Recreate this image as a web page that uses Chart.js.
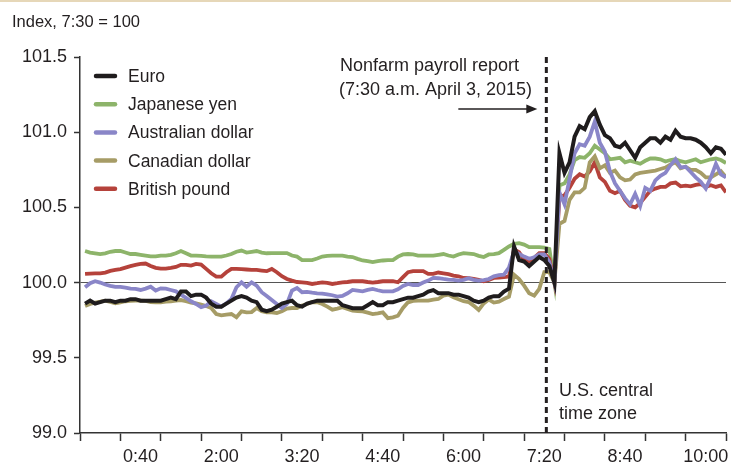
<!DOCTYPE html>
<html>
<head>
<meta charset="utf-8">
<title>Exchange rates around the nonfarm payroll report</title>
<script src="https://cdn.jsdelivr.net/npm/chart.js@4.4.1/dist/chart.umd.min.js"></script>
<style>
  html, body { margin: 0; padding: 0; background: #fff; }
  #wrap { width: 731px; height: 468px; position: relative; }
</style>
</head>
<body>
<div id="wrap"><canvas id="fxChart" width="731" height="468"></canvas></div>
<script>
// Minutes after midnight (U.S. central time), 5-minute steps
const times = [
  -15, -10, -5, 0, 5, 10, 15, 20, 25, 30,
  35, 40, 45, 50, 55, 60, 65, 70, 75, 80,
  85, 90, 95, 100, 105, 110, 115, 120, 125, 130,
  135, 140, 145, 150, 155, 160, 165, 170, 175, 180,
  185, 190, 195, 200, 205, 210, 215, 220, 225, 230,
  235, 240, 245, 250, 255, 260, 265, 270, 275, 280,
  285, 290, 295, 300, 305, 310, 315, 320, 325, 330,
  335, 340, 345, 350, 355, 360, 365, 370, 375, 380,
  385, 390, 395, 400, 405, 410, 415, 420, 425, 430,
  435, 440, 445, 450, 455, 460, 465, 470, 475, 480,
  485, 490, 495, 500, 505, 510, 515, 520, 525, 530,
  535, 540, 545, 550, 555, 560, 565, 570, 575, 580,
  585, 590, 595, 600, 605, 610, 615, 620
];

// Index, 7:30 = 100
const euro = [
  99.86, 99.88, 99.86, 99.87, 99.88, 99.88, 99.87, 99.88, 99.88, 99.89,
  99.89, 99.88, 99.88, 99.88, 99.88, 99.88, 99.89, 99.90, 99.89, 99.94,
  99.94, 99.91, 99.92, 99.92, 99.90, 99.86, 99.84, 99.84, 99.86, 99.88,
  99.90, 99.91, 99.90, 99.88, 99.87, 99.82, 99.81, 99.82, 99.84, 99.86,
  99.87, 99.88, 99.85, 99.84, 99.86, 99.87, 99.88, 99.88, 99.88, 99.88,
  99.88, 99.85, 99.84, 99.83, 99.83, 99.83, 99.85, 99.87, 99.85, 99.85,
  99.87, 99.87, 99.88, 99.89, 99.90, 99.90, 99.91, 99.92, 99.94, 99.95,
  99.93, 99.93, 99.93, 99.92, 99.92, 99.91, 99.90, 99.88, 99.87, 99.88,
  99.90, 99.91, 99.91, 99.94, 99.96, 100.24, 100.15, 100.14, 100.11, 100.14,
  100.17, 100.15, 100.11, 100.00, 100.86, 100.73, 100.80, 100.97, 101.04, 101.02,
  101.10, 101.14, 101.05, 100.98, 100.96, 100.91, 100.90, 100.93, 100.88, 100.83,
  100.90, 100.93, 100.96, 100.96, 100.93, 100.97, 100.95, 101.01, 100.97, 100.96,
  100.96, 100.95, 100.93, 100.90, 100.86, 100.90, 100.89, 100.85
];
const yen = [
  100.21, 100.20, 100.195, 100.19, 100.195, 100.205, 100.21, 100.21, 100.20, 100.19,
  100.19, 100.185, 100.18, 100.175, 100.175, 100.18, 100.18, 100.185, 100.195, 100.21,
  100.195, 100.18, 100.18, 100.178, 100.175, 100.173, 100.173, 100.173, 100.18, 100.19,
  100.205, 100.213, 100.20, 100.205, 100.21, 100.20, 100.195, 100.196, 100.196, 100.196,
  100.196, 100.18, 100.173, 100.15, 100.15, 100.15, 100.16, 100.173, 100.178, 100.18,
  100.18, 100.18, 100.173, 100.17, 100.158, 100.147, 100.142, 100.136, 100.142, 100.147,
  100.15, 100.15, 100.173, 100.187, 100.19, 100.187, 100.18, 100.18, 100.18, 100.18,
  100.185, 100.19, 100.18, 100.173, 100.187, 100.196, 100.193, 100.19, 100.178, 100.17,
  100.187, 100.19, 100.196, 100.218, 100.24, 100.258, 100.262, 100.253, 100.236, 100.236,
  100.236, 100.233, 100.224, 100.00, 100.645, 100.66, 100.72, 100.815, 100.835, 100.83,
  100.86, 100.91, 100.885, 100.86, 100.82, 100.825, 100.83, 100.80, 100.81, 100.80,
  100.79, 100.81, 100.825, 100.825, 100.82, 100.805, 100.815, 100.82, 100.807, 100.80,
  100.81, 100.82, 100.80, 100.81, 100.82, 100.825, 100.815, 100.795
];
const audollar = [
  99.969, 99.996, 100.009, 100.0, 99.987, 99.978, 99.971, 99.971, 99.967, 99.96,
  99.958, 99.951, 99.96, 99.973, 99.947, 99.962, 99.96, 99.951, 99.942, 99.92,
  99.898, 99.876, 99.858, 99.836, 99.847, 99.876, 99.858, 99.84, 99.862, 99.891,
  99.969, 100.002, 99.973, 100.002, 99.98, 99.936, 99.911, 99.884, 99.858, 99.831,
  99.858, 99.947, 99.964, 99.936, 99.938, 99.933, 99.929, 99.927, 99.922, 99.916,
  99.907, 99.911, 99.929, 99.951, 99.947, 99.942, 99.951, 99.958, 99.949, 99.942,
  99.942, 99.942, 99.956, 99.978, 99.991, 99.984, 99.984, 100.0, 100.013, 100.031,
  100.029, 100.024, 100.02, 100.018, 100.013, 100.018, 100.029, 100.018, 100.013, 100.016,
  100.024, 100.042, 100.049, 100.053, 100.10, 100.209, 100.191, 100.173, 100.158, 100.169,
  100.187, 100.187, 100.136, 100.00, 100.60, 100.52, 100.69, 100.86, 100.92, 100.91,
  100.97, 101.07, 100.93, 100.87, 100.74, 100.66, 100.61, 100.56, 100.52, 100.59,
  100.51, 100.63, 100.61, 100.68, 100.71, 100.73, 100.78, 100.82, 100.765, 100.77,
  100.735, 100.70, 100.67, 100.625, 100.70, 100.79, 100.72, 100.70
];
const cadollar = [
  99.844, 99.858, 99.867, 99.873, 99.88, 99.871, 99.862, 99.869, 99.876, 99.878,
  99.88, 99.88, 99.878, 99.871, 99.869, 99.869, 99.873, 99.876, 99.88, 99.884,
  99.876, 99.867, 99.862, 99.853, 99.844, 99.831, 99.791, 99.782, 99.787, 99.791,
  99.769, 99.809, 99.802, 99.804, 99.831, 99.809, 99.802, 99.802, 99.798, 99.809,
  99.827, 99.831, 99.831, 99.847, 99.858, 99.871, 99.869, 99.858, 99.84, 99.82,
  99.827, 99.836, 99.824, 99.813, 99.811, 99.809, 99.80, 99.791, 99.796, 99.802,
  99.764, 99.769, 99.78, 99.831, 99.869, 99.878, 99.88, 99.88, 99.88, 99.887,
  99.891, 99.913, 99.92, 99.902, 99.889, 99.876, 99.871, 99.847, 99.818, 99.862,
  99.887, 99.867, 99.873, 99.891, 99.907, 100.053, 100.024, 99.98, 99.929, 99.913,
  99.958, 100.069, 100.069, 100.00, 100.39, 100.41, 100.55, 100.60, 100.60, 100.63,
  100.80, 100.84, 100.76, 100.78, 100.73, 100.745, 100.70, 100.68, 100.685, 100.72,
  100.73, 100.735, 100.74, 100.745, 100.755, 100.765, 100.785, 100.80, 100.76, 100.77,
  100.75, 100.75, 100.73, 100.70, 100.70, 100.72, 100.74, 100.70
];
const pound = [
  100.058, 100.06, 100.062, 100.062, 100.067, 100.078, 100.084, 100.09, 100.10, 100.109,
  100.118, 100.124, 100.127, 100.111, 100.098, 100.093, 100.093, 100.098, 100.104, 100.118,
  100.118, 100.113, 100.124, 100.12, 100.091, 100.062, 100.04, 100.04, 100.069, 100.091,
  100.091, 100.089, 100.087, 100.084, 100.084, 100.08, 100.076, 100.091, 100.069, 100.042,
  100.024, 100.013, 100.004, 100.002, 99.998, 99.991, 99.996, 100.002, 99.998, 99.991,
  99.996, 100.002, 100.004, 100.009, 100.009, 100.009, 100.004, 100.0, 100.004, 100.009,
  100.009, 100.009, 100.002, 100.036, 100.069, 100.076, 100.076, 100.076, 100.058, 100.058,
  100.067, 100.062, 100.056, 100.047, 100.042, 100.031, 100.029, 100.024, 100.018, 100.009,
  100.018, 100.031, 100.033, 100.036, 100.04, 100.22, 100.202, 100.151, 100.142, 100.164,
  100.196, 100.196, 100.158, 100.00, 100.57, 100.58, 100.63, 100.69, 100.72, 100.705,
  100.74, 100.80, 100.70, 100.67, 100.61, 100.595, 100.61, 100.55, 100.51, 100.50,
  100.53, 100.57, 100.61, 100.625, 100.636, 100.636, 100.66, 100.665, 100.64, 100.645,
  100.64, 100.65, 100.655, 100.636, 100.647, 100.636, 100.646, 100.60
];

// Axis labels
const xLabelMinutes = [40, 120, 200, 280, 360, 440, 520, 600];
const xLabels = ['0:40', '2:00', '3:20', '4:40', '6:00', '7:20', '8:40', '10:00'];
const yTicks = [99.0, 99.5, 100.0, 100.5, 101.0, 101.5];
const reportMinute = 442; // where the dashed marker sits on the time axis

const FONT = '"Liberation Sans", Arial, sans-serif';
const INK = '#231f20';

const series = [
  { label: 'Euro', data: euro, color: '#1f1c1d', width: 4, order: 0 },
  { label: 'Japanese yen', data: yen, color: '#8db46a', width: 3.8, order: 4 },
  { label: 'Australian dollar', data: audollar, color: '#8a86c8', width: 3.8, order: 1 },
  { label: 'Canadian dollar', data: cadollar, color: '#a69c66', width: 3.8, order: 2 },
  { label: 'British pound', data: pound, color: '#b5423b', width: 3.8, order: 3 }
];

// Legend, notes and the report marker
const decor = {
  id: 'decor',
  beforeDraw(chart) {
    const c = chart.ctx;
    c.save();
    c.fillStyle = '#fff';
    c.fillRect(0, 0, chart.width, chart.height);
    c.fillStyle = '#e6d7b8';
    c.fillRect(0, 0, chart.width, 2);
    c.restore();
  },
  afterDatasetsDraw(chart) {
    const c = chart.ctx;
    const area = chart.chartArea;
    const x = chart.scales.x.getPixelForValue(reportMinute);
    c.save();
    c.strokeStyle = INK;
    c.lineWidth = 3;
    c.setLineDash([6, 4]);
    c.beginPath();
    c.moveTo(x, area.top);
    c.lineTo(x, area.bottom);
    c.stroke();
    c.restore();
  },
  afterDraw(chart) {
    const c = chart.ctx;
    const dashX = chart.scales.x.getPixelForValue(reportMinute);
    c.save();
    c.fillStyle = INK;
    c.textBaseline = 'alphabetic';

    c.font = '16.5px ' + FONT;
    c.fillText('Index, 7:30 = 100', 12, 27);

    c.font = '18px ' + FONT;
    c.fillText('Nonfarm payroll report', 340, 71);
    c.fillText('(7:30 a.m. April 3, 2015)', 339, 95);
    c.fillText('U.S. central', 559, 396);
    c.fillText('time zone', 559, 419);

    // arrow pointing at the marker
    const ay = 109;
    c.strokeStyle = INK;
    c.lineWidth = 1.5;
    c.beginPath();
    c.moveTo(dashX - 88, ay);
    c.lineTo(dashX - 18, ay);
    c.stroke();
    c.beginPath();
    c.moveTo(dashX - 9, ay);
    c.lineTo(dashX - 20, ay - 4.5);
    c.lineTo(dashX - 20, ay + 4.5);
    c.closePath();
    c.fill();

    // legend
    c.font = '17.5px ' + FONT;
    c.lineCap = 'round';
    c.lineWidth = 4.5;
    series.forEach((s, i) => {
      const y = 76 + i * 28.2;
      c.strokeStyle = s.color;
      c.beginPath();
      c.moveTo(96, y);
      c.lineTo(115, y);
      c.stroke();
      c.fillStyle = INK;
      c.fillText(s.label, 128, y + 6);
    });
    c.restore();
  }
};

Chart.defaults.font.family = FONT;
Chart.defaults.color = INK;

new Chart(document.getElementById('fxChart').getContext('2d'), {
  type: 'line',
  data: {
    datasets: series.map(s => ({
      label: s.label,
      data: s.data.map((v, i) => ({ x: times[i], y: v })),
      borderColor: s.color,
      backgroundColor: s.color,
      borderWidth: s.width,
      pointRadius: 0,
      tension: 0,
      order: s.order
    }))
  },
  options: {
    responsive: false,
    animation: false,
    events: [],
    layout: { padding: { top: 57, right: 4, left: 0, bottom: 0 } },
    plugins: {
      legend: { display: false },
      tooltip: { enabled: false }
    },
    scales: {
      x: {
        type: 'linear',
        min: -20,
        max: 620,
        afterBuildTicks: s => {
          s.ticks = [];
          for (let m = -20; m <= 620; m += 20) s.ticks.push({ value: m });
        },
        afterFit: s => { s.height = 35; },
        grid: {
          drawOnChartArea: false,
          drawTicks: true,
          tickLength: 8,
          tickWidth: 1.5,
          tickColor: c => ((c.tick.value + 20) % 40 === 0 ? '#333' : 'rgba(0,0,0,0)')
        },
        border: { display: true, color: '#333', width: 1.5 },
        ticks: {
          autoSkip: false,
          maxRotation: 0,
          padding: 5,
          font: { size: 18 },
          color: INK,
          callback: v => {
            const i = xLabelMinutes.indexOf(v);
            return i >= 0 ? xLabels[i] : '';
          }
        }
      },
      y: {
        min: 99,
        max: 101.5,
        afterBuildTicks: s => { s.ticks = yTicks.map(v => ({ value: v })); },
        afterFit: s => { s.width = 80; },
        grid: {
          drawOnChartArea: true,
          color: c => (c.tick && c.tick.value === 100 ? '#555' : 'rgba(0,0,0,0)'),
          lineWidth: 1,
          tickLength: 6,
          tickWidth: 1.5,
          tickColor: '#333'
        },
        border: { display: true, color: '#333', width: 1.5 },
        ticks: {
          padding: 7,
          font: { size: 18 },
          color: INK,
          callback: v => v.toFixed(1)
        }
      }
    }
  },
  plugins: [decor]
});
</script>
</body>
</html>
